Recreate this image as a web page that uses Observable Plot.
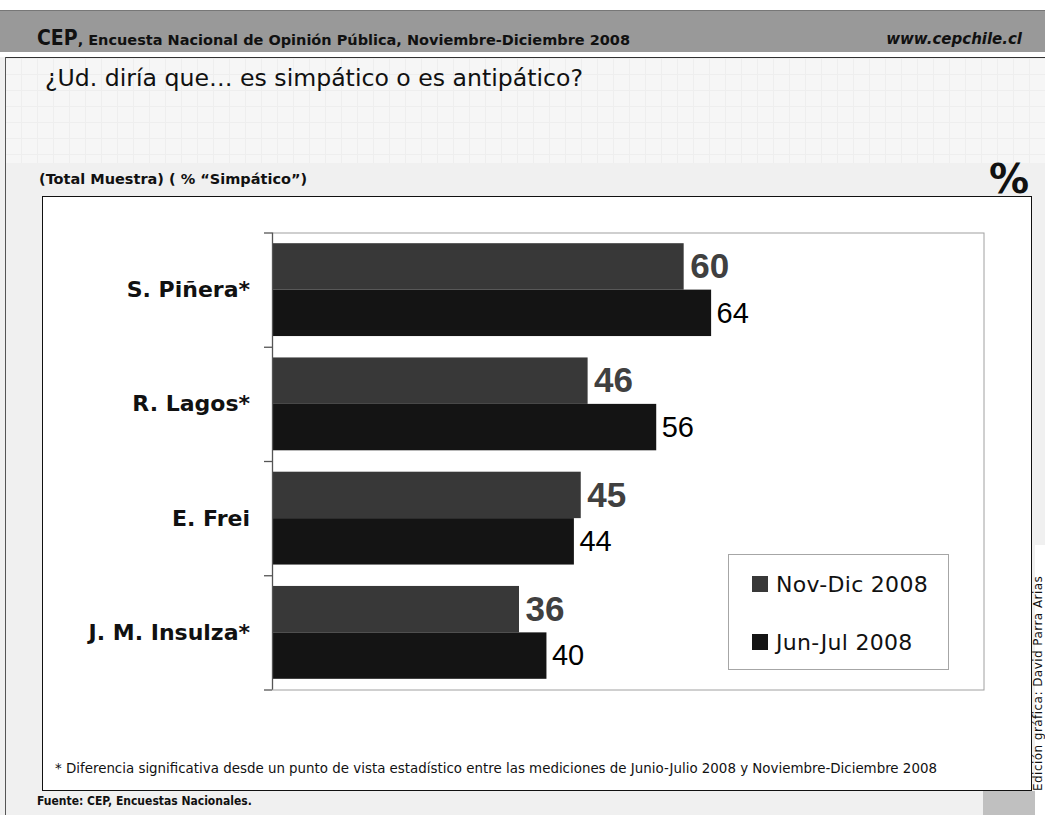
<!DOCTYPE html>
<html><head><meta charset="utf-8">
<script src="https://cdn.jsdelivr.net/npm/d3@7"></script>
<script src="https://cdn.jsdelivr.net/npm/@observablehq/plot@0.6"></script>
<style>
html,body{margin:0;padding:0;}
body{width:1045px;height:815px;position:relative;overflow:hidden;background:#f0f0f0;font-family:"DejaVu Sans",sans-serif;color:#111;}
.abs{position:absolute;white-space:nowrap;}
.cond{font-family:"DejaVu Sans Condensed","DejaVu Sans",sans-serif;font-stretch:condensed;}
</style></head><body>
<div class="abs" style="left:0;top:0;width:1045px;height:10px;background:#fff"></div>
<div class="abs" style="left:0;top:10px;width:1045px;height:42px;background:#999;border-top:1px solid #777;box-sizing:border-box"></div>
<div class="abs" style="left:0;top:52px;width:1045px;height:5px;background:#fff"></div>
<div class="abs" style="left:5px;top:58px;width:1040px;height:105px;background-color:#f6f6f6;background-image:linear-gradient(90deg,#eeeeee 1px,transparent 1px),linear-gradient(#eeeeee 1px,transparent 1px);background-size:16px 16px"></div>
<div class="abs" style="left:5px;top:56.5px;width:1040px;height:1.5px;background:#333"></div>
<div class="abs" style="left:5px;top:57px;width:1px;height:758px;background:#555"></div>
<div class="abs" style="left:1035px;top:545px;width:10px;height:270px;background:#fff"></div>
<div class="abs" style="left:983px;top:791px;width:52px;height:24px;background:#c0c0c0"></div>

<div id="hdr" class="abs" style="left:37px;top:28px;font-size:21px;line-height:21px;font-weight:bold;color:#111"><span class="cond">CEP</span><span style="font-size:14.5px">, Encuesta Nacional de Opinión Pública, Noviembre-Diciembre 2008</span></div>
<div id="web" class="abs" style="right:23px;top:32.3px;font-size:15px;line-height:15px;font-weight:bold;font-style:italic;color:#111">www.cepchile.cl</div>
<div id="title" class="abs" style="left:45px;top:67px;font-size:23.6px;line-height:23.6px;color:#111">¿Ud. diría que… es simpático o es antipático?</div>
<div id="sub" class="abs" style="left:39px;top:172px;font-size:14.5px;line-height:14.5px;font-weight:bold;color:#111">(Total Muestra) ( % “Simpático”)</div>
<div id="pct" class="abs" style="right:16px;top:159px;font-size:40px;line-height:40px;font-weight:bold;color:#111">%</div>

<div id="box" class="abs" style="left:42px;top:196px;width:990px;height:595px;border:1.5px solid #111;box-sizing:border-box;background:#fff"></div>
<div id="chart" class="abs" style="left:43.5px;top:197.5px"></div>

<div id="legend" class="abs" style="left:728px;top:554px;width:221px;height:116px;border:1px solid #a6a6a6;box-sizing:border-box;background:#fff"></div>

<div id="foot" class="abs" style="left:55px;top:761.7px;font-size:13.4px;line-height:13.4px;color:#111">* Diferencia significativa desde un punto de vista estadístico entre las mediciones de Junio-Julio 2008 y Noviembre-Diciembre 2008</div>
<div id="src" class="abs cond" style="left:37px;top:795px;font-size:12px;line-height:12px;font-weight:bold;color:#111">Fuente: CEP, Encuestas Nacionales.</div>
<div class="abs" style="left:1033px;top:791px;font-size:12px;line-height:11px;letter-spacing:0.45px;color:#111;transform:rotate(-90deg);transform-origin:0 0">Edición gráfica: David Parra Arias</div>

<script>
const candidates = ["S. Piñera*", "R. Lagos*", "E. Frei", "J. M. Insulza*"];
const periods = ["Nov-Dic 2008", "Jun-Jul 2008"];
const novDic = [60, 46, 45, 36];
const junJul = [64, 56, 44, 40];
const colors = ["#383838", "#141414"];

const rows = candidates.flatMap((c, i) => [
  {candidate: c, idx: i, period: periods[0], value: novDic[i]},
  {candidate: c, idx: i, period: periods[1], value: junJul[i]}
]);
const novRows = rows.filter(d => d.period === periods[0]);
const junRows = rows.filter(d => d.period === periods[1]);

const W = 987, H = 592, mT = 34.5, mB = 100.5, mL = 228, mR = 47.5;
const band = (H - mT - mB) / candidates.length;
const pad = 10.7, half = band / 2;
const labelFrac = (pad + half) / 2 / band;

const chart = Plot.plot({
  width: W, height: H,
  marginTop: mT, marginBottom: mB, marginLeft: mL, marginRight: mR,
  style: {background: "transparent", overflow: "visible"},
  x: {domain: [0, 103.7], axis: null},
  y: {type: "linear", domain: [0, candidates.length], reverse: true, label: null},
  marks: [
    Plot.frame({stroke: "#a0a0a0"}),
    Plot.rect(novRows, {x1: 0, x2: "value", y1: "idx", y2: d => d.idx + 1, fill: colors[0], insetTop: pad, insetBottom: half}),
    Plot.rect(junRows, {x1: 0, x2: "value", y1: "idx", y2: d => d.idx + 1, fill: colors[1], insetTop: half, insetBottom: pad}),
    Plot.ruleX([0], {stroke: "#555", strokeWidth: 1.3}),
    Plot.axisY(d3.range(candidates.length + 1), {tickSize: 8, tickFormat: () => "", label: null, stroke: "#555", strokeWidth: 1.3}),
    Plot.text(candidates, {y: (d, i) => i + 0.5, frameAnchor: "left", dx: -22.5, textAnchor: "end", text: d => d,
      fontSize: 22, fontWeight: "bold", fill: "#111", fontFamily: "DejaVu Sans"}),
    Plot.text(novRows, {x: "value", y: d => d.idx + labelFrac, text: d => String(d.value), dx: 6, textAnchor: "start",
      fontSize: 35, fontWeight: "bold", fill: "#404040", fontFamily: "Liberation Sans, Arial"}),
    Plot.text(junRows, {x: "value", y: d => d.idx + 1 - labelFrac, text: d => String(d.value), dx: 5, textAnchor: "start",
      fontSize: 29, fill: "#000", fontFamily: "Liberation Sans, Arial"})
  ]
});
document.getElementById("chart").appendChild(chart);

const legend = document.getElementById("legend");
periods.forEach((p, i) => {
  const sw = document.createElement("div");
  sw.className = "abs";
  sw.style.cssText = `left:23px;top:${21 + i * 58}px;width:16px;height:16px;background:${colors[i]}`;
  legend.appendChild(sw);
  const t = document.createElement("div");
  t.className = "abs";
  t.style.cssText = `left:47px;top:${19.4 + i * 58}px;font-size:22px;line-height:22px;letter-spacing:0.3px;color:#111`;
  t.textContent = p;
  legend.appendChild(t);
});
</script>
</body></html>
